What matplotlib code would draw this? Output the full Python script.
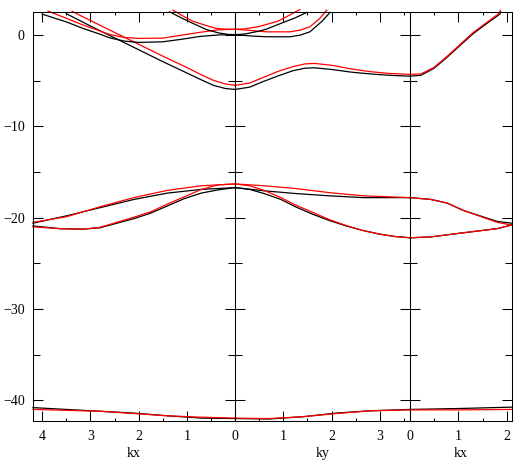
import matplotlib
matplotlib.use("Agg")
import matplotlib.pyplot as plt
from matplotlib.ticker import MultipleLocator, FixedLocator, NullFormatter

# ---------------- data ----------------
# panel limits (k-path lengths)
kx1_max = 4.19
ky_max = 3.63
kx3_max = 2.10

# Left panel (kx from 4.19 -> 0)
L1_k = [4.19, 3.5, 2.8, 2.1, 1.4, 0.7, 0.0]
L1_black = [-40.8, -41.0, -41.2, -41.4, -41.7, -41.95, -42.0]
L1_red = [-41.0, -41.1, -41.2, -41.45, -41.7, -41.85, -41.95]

V1_1_k = [4.19, 3.5, 2.8, 2.1, 1.4, 0.7, 0.0]
V1_1_black = [-20.6, -19.8, -18.9, -18.0, -17.3, -16.9, -16.7]
V1_1_red = [-20.5, -19.9, -18.8, -17.8, -17.0, -16.5, -16.3]

V2_1_k = [4.19, 3.63, 3.15, 2.8, 2.45, 2.1, 1.75, 1.4, 1.05, 0.7, 0.35, 0.0]
V2_1_black = [-20.9, -21.2, -21.25, -21.1, -20.6, -20.1, -19.5, -18.7, -17.9, -17.3, -16.95, -16.7]
V2_1_red = [-21.0, -21.2, -21.25, -21.05, -20.5, -19.95, -19.35, -18.5, -17.7, -16.9, -16.4, -16.3]

C1_1_k_black = [3.5, 3.0, 2.5, 2.0, 1.5, 1.0, 0.7, 0.45, 0.2, 0.0]
C1_1_black = [2.35, 1.0, -0.3, -1.6, -2.9, -4.15, -4.9, -5.5, -5.85, -5.95]
C1_1_k_red = [3.38, 3.0, 2.5, 2.0, 1.5, 1.0, 0.7, 0.45, 0.2, 0.0]
C1_1_red = [2.6, 1.6, 0.3, -1.0, -2.3, -3.55, -4.35, -4.95, -5.35, -5.5]

C0_1_k_black = [4.0, 3.5, 3.15, 2.8, 2.6, 2.3, 2.0, 1.5, 1.1, 0.74, 0.35, 0.0]
C0_1_black = [2.3, 1.45, 0.73, 0.1, -0.3, -0.65, -0.8, -0.73, -0.45, -0.15, 0.02, 0.05]
C0_1_k_red = [3.88, 3.5, 3.15, 2.8, 2.6, 2.3, 2.0, 1.5, 1.1, 0.74, 0.35, 0.0]
C0_1_red = [2.63, 1.85, 1.1, 0.45, 0.07, -0.25, -0.36, -0.33, 0.0, 0.3, 0.58, 0.64]

C2_1_k_black = [1.36, 1.1, 0.88, 0.6, 0.35, 0.15, 0.0]
C2_1_black = [2.55, 1.85, 1.3, 0.62, 0.25, 0.08, 0.05]
C2_1_k_red = [1.29, 1.1, 0.88, 0.6, 0.39, 0.2, 0.0]
C2_1_red = [2.74, 2.15, 1.53, 1.05, 0.73, 0.66, 0.64]

# Middle panel (ky from 0 -> 3.63)
L2_k = [0.0, 0.7, 1.4, 2.1, 2.8, 3.63]
L2_black = [-42.0, -42.05, -41.8, -41.4, -41.15, -41.0]
L2_red = [-41.95, -42.0, -41.8, -41.45, -41.15, -41.05]

V1_2_k = [0.0, 0.6, 1.25, 1.95, 2.65, 3.63]
V1_2_black = [-16.7, -17.05, -17.35, -17.6, -17.8, -17.8]
V1_2_red = [-16.3, -16.5, -16.8, -17.25, -17.6, -17.8]

V2_2_k = [0.0, 0.3, 0.6, 0.95, 1.25, 1.6, 1.95, 2.3, 2.65, 3.0, 3.3, 3.63]
V2_2_black = [-16.7, -16.9, -17.35, -18.0, -18.8, -19.6, -20.3, -20.9, -21.4, -21.8, -22.05, -22.2]
V2_2_red = [-16.3, -16.5, -17.0, -17.8, -18.6, -19.4, -20.2, -20.85, -21.4, -21.8, -22.05, -22.2]

C1_2_k = [0.0, 0.3, 0.6, 0.9, 1.2, 1.45, 1.65, 2.0, 2.4, 2.8, 3.2, 3.63]
C1_2_black = [-5.95, -5.7, -5.05, -4.45, -3.9, -3.62, -3.58, -3.76, -4.05, -4.25, -4.4, -4.5]
C1_2_red = [-5.5, -5.25, -4.6, -3.95, -3.45, -3.15, -3.1, -3.3, -3.7, -4.0, -4.2, -4.3]

C0_2_k_black = [0.0, 0.35, 0.65, 1.14, 1.35, 1.55, 1.79, 1.97]
C0_2_black = [0.05, -0.1, -0.18, -0.18, 0.0, 0.36, 1.46, 2.49]
C0_2_k_red = [0.0, 0.35, 0.65, 1.14, 1.35, 1.55, 1.75, 1.9]
C0_2_red = [0.64, 0.5, 0.36, 0.36, 0.55, 0.91, 1.8, 2.74]

C2_2_k_black = [0.0, 0.2, 0.5, 0.65, 1.0, 1.25, 1.49]
C2_2_black = [0.05, 0.12, 0.44, 0.66, 1.39, 1.9, 2.5]
C2_2_k_red = [0.0, 0.2, 0.5, 0.65, 0.9, 1.0, 1.34]
C2_2_red = [0.64, 0.68, 0.95, 1.17, 1.55, 1.83, 2.8]

# Right panel (kx from 0 -> 2.10)
L3_k = [0.0, 1.0, 2.1]
L3_black = [-41.0, -40.9, -40.75]
L3_red = [-41.05, -41.05, -41.0]

V1_3_k = [0.0, 0.43, 0.77, 1.1, 1.45, 1.8, 2.1]
V1_3_black = [-17.8, -18.0, -18.4, -19.2, -19.8, -20.4, -20.6]
V1_3_red = [-17.8, -18.0, -18.4, -19.2, -19.85, -20.5, -20.8]

V2_3_k = [0.0, 0.43, 1.1, 1.8, 2.1]
V2_3_black = [-22.2, -22.1, -21.65, -21.2, -20.8]
V2_3_red = [-22.2, -22.1, -21.65, -21.2, -20.8]

C1_3_k = [0.0, 0.22, 0.49, 0.77, 1.04, 1.31, 1.59, 1.86, 1.87]
C1_3_black = [-4.5, -4.4, -3.65, -2.4, -1.1, 0.18, 1.28, 2.3, 2.6]
C1_3_red = [-4.3, -4.25, -3.55, -2.3, -1.0, 0.3, 1.4, 2.45, 2.7]

y_ticks = [0, -10, -20, -30, -40]
y_tick_labels = ["0", "\u221210", "\u221220", "\u221230", "\u221240"]
x_labels = ["kx", "ky", "kx"]

# ---------------- figure ----------------
plt.rcParams['font.family'] = ['Liberation Serif', 'DejaVu Serif']
plt.rcParams['font.size'] = 10

fig = plt.figure(figsize=(5.23, 4.67), dpi=100)
gs = fig.add_gridspec(1, 3, left=33/523, right=511.5/523, bottom=1-421.3/467, top=1-12.3/467,
                      wspace=0, width_ratios=[kx1_max, ky_max, kx3_max])
axes = [fig.add_subplot(gs[0, i]) for i in range(3)]

BLACK = "#000000"
RED = "#ff0000"
LW = 0.9

def draw(ax, kb, eb, kr, er):
    ax.plot(kb, eb, color=BLACK, lw=LW, clip_on=False, solid_joinstyle='round')
    ax.plot(kr, er, color=RED, lw=LW, clip_on=False, solid_joinstyle='round')

a1, a2, a3 = axes
draw(a1, L1_k, L1_black, L1_k, L1_red)
draw(a1, V1_1_k, V1_1_black, V1_1_k, V1_1_red)
draw(a1, V2_1_k, V2_1_black, V2_1_k, V2_1_red)
draw(a1, C1_1_k_black, C1_1_black, C1_1_k_red, C1_1_red)
draw(a1, C0_1_k_black, C0_1_black, C0_1_k_red, C0_1_red)
draw(a1, C2_1_k_black, C2_1_black, C2_1_k_red, C2_1_red)

draw(a2, L2_k, L2_black, L2_k, L2_red)
draw(a2, V1_2_k, V1_2_black, V1_2_k, V1_2_red)
draw(a2, V2_2_k, V2_2_black, V2_2_k, V2_2_red)
draw(a2, C1_2_k, C1_2_black, C1_2_k, C1_2_red)
draw(a2, C0_2_k_black, C0_2_black, C0_2_k_red, C0_2_red)
draw(a2, C2_2_k_black, C2_2_black, C2_2_k_red, C2_2_red)

draw(a3, L3_k, L3_black, L3_k, L3_red)
draw(a3, V1_3_k, V1_3_black, V1_3_k, V1_3_red)
draw(a3, V2_3_k, V2_3_black, V2_3_k, V2_3_red)
draw(a3, C1_3_k, C1_3_black, C1_3_k, C1_3_red)

a1.set_xlim(kx1_max, 0)
a2.set_xlim(0, ky_max)
a3.set_xlim(0, kx3_max)

for i, ax in enumerate(axes):
    ax.set_ylim(-42.3, 2.5)
    ax.yaxis.set_major_locator(FixedLocator(y_ticks))
    ax.yaxis.set_minor_locator(MultipleLocator(5))
    ax.xaxis.set_major_locator(MultipleLocator(1))
    ax.xaxis.set_minor_locator(MultipleLocator(0.5))
    ax.tick_params(axis='both', which='both', direction='in', top=True, bottom=True,
                   left=True, right=True, width=0.75, colors='black', labelsize=10, pad=6)
    ax.tick_params(axis='both', which='major', length=7.2)
    ax.tick_params(axis='x', which='minor', length=2.5)
    ax.tick_params(axis='y', which='minor', length=5)
    for s in ax.spines.values():
        s.set_linewidth(0.75)
    ax.set_xlabel(x_labels[i], labelpad=3)
    if i == 0:
        ax.set_yticklabels(y_tick_labels)
    else:
        ax.yaxis.set_major_formatter(NullFormatter())

a2.set_xticks([0, 1, 2, 3])
a2.set_xticklabels(["", "1", "2", "3"])

fig.savefig("out.png", dpi=100)
